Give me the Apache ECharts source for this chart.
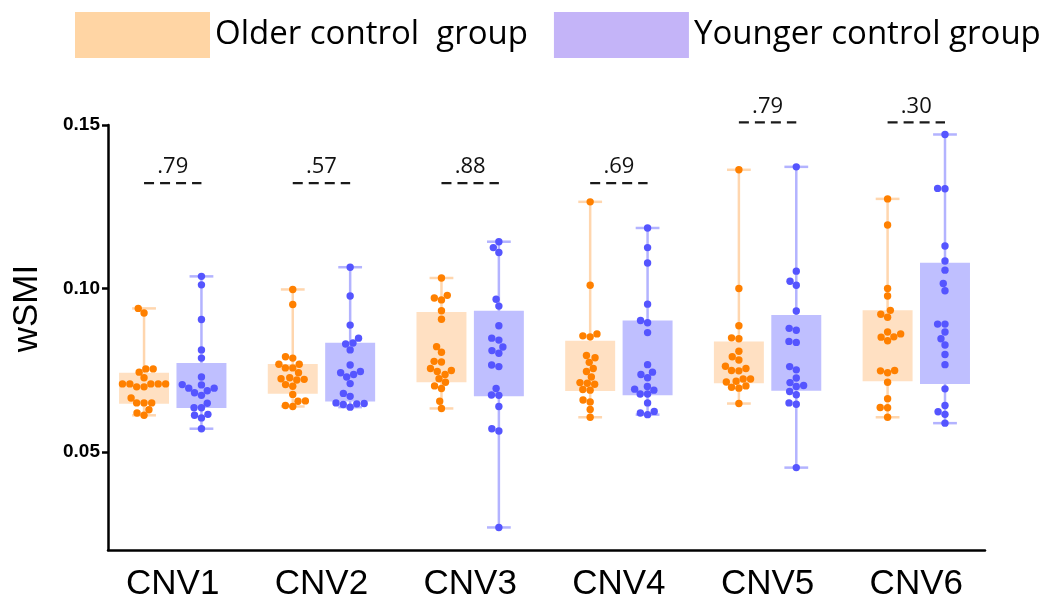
<!DOCTYPE html>
<html><head><meta charset="utf-8">
<script src="https://cdn.jsdelivr.net/npm/echarts@6/dist/echarts.min.js"></script>
<style>html,body{margin:0;padding:0;background:#fff}#c{width:1054px;height:602px}</style>
</head><body><div id="c"></div>
<script>
const categories = ['CNV1','CNV2','CNV3','CNV4','CNV5','CNV6'];
const seriesNames = ['Older control  group','Younger control group'];

const olderCNV1 = [0.0939,0.0925,0.0754,0.0744,0.0754,0.0727,0.0708,0.0708,0.0708,0.0699,0.0699,0.0708,0.0708,0.0665,0.0650,0.0650,0.0650,0.0629,0.0612,0.0619];
const youngerCNV1 = [0.1037,0.1011,0.0905,0.0812,0.0787,0.0729,0.0695,0.0681,0.0705,0.0673,0.0687,0.0706,0.0695,0.0649,0.0635,0.0635,0.0612,0.0604,0.0615,0.0571];
const olderCNV2 = [0.0997,0.0951,0.0791,0.0787,0.0768,0.0757,0.0757,0.0768,0.0742,0.0720,0.0727,0.0724,0.0722,0.0701,0.0706,0.0676,0.0655,0.0656,0.0639,0.0642];
const youngerCNV2 = [0.1065,0.0977,0.0888,0.0848,0.0830,0.0833,0.0812,0.0766,0.0742,0.0737,0.0746,0.0729,0.0709,0.0679,0.0670,0.0650,0.0647,0.0637,0.0645,0.0648];
const olderCNV3 = [0.1032,0.0979,0.0965,0.0971,0.0932,0.0906,0.0822,0.0805,0.0775,0.0777,0.0755,0.0746,0.0749,0.0737,0.0724,0.0713,0.0702,0.0694,0.0655,0.0633];
const youngerCNV3 = [0.1143,0.1125,0.1110,0.0967,0.0946,0.0886,0.0842,0.0848,0.0810,0.0802,0.0821,0.0761,0.0766,0.0694,0.0674,0.0673,0.0639,0.0571,0.0564,0.0269];
const olderCNV4 = [0.1265,0.1010,0.0855,0.0852,0.0861,0.0788,0.0795,0.0774,0.0755,0.0746,0.0729,0.0710,0.0707,0.0712,0.0691,0.0689,0.0659,0.0653,0.0630,0.0606];
const youngerCNV4 = [0.1185,0.1125,0.1078,0.0952,0.0895,0.0902,0.0865,0.0767,0.0737,0.0744,0.0727,0.0700,0.0689,0.0692,0.0677,0.0677,0.0650,0.0624,0.0614,0.0619];
const olderCNV5 = [0.1363,0.1000,0.0886,0.0846,0.0849,0.0808,0.0781,0.0791,0.0762,0.0749,0.0748,0.0755,0.0714,0.0723,0.0723,0.0716,0.0698,0.0695,0.0702,0.0648];
const youngerCNV5 = [0.1372,0.1053,0.1022,0.1010,0.0931,0.0878,0.0872,0.0835,0.0838,0.0761,0.0751,0.0726,0.0712,0.0703,0.0700,0.0685,0.0675,0.0650,0.0646,0.0452];
const olderCNV6 = [0.1274,0.1194,0.1000,0.0977,0.0921,0.0912,0.0933,0.0861,0.0867,0.0851,0.0840,0.0852,0.0749,0.0742,0.0748,0.0713,0.0663,0.0636,0.0635,0.0606];
const youngerCNV6 = [0.1471,0.1306,0.1305,0.1130,0.1084,0.1056,0.1015,0.0993,0.0891,0.0891,0.0867,0.0846,0.0827,0.0798,0.0767,0.0693,0.0642,0.0623,0.0615,0.0588];

const olderQ1 = [0.0647,0.0678,0.0713,0.0686,0.0710,0.0716];
const olderQ3 = [0.0742,0.0769,0.0928,0.0840,0.0838,0.0933];
const youngerQ1 = [0.0634,0.0654,0.0670,0.0673,0.0687,0.0708];
const youngerQ3 = [0.0772,0.0834,0.0932,0.0902,0.0919,0.1079];

const pLabels = ['.79','.57','.88','.69','.79','.30'];
const pLevels = [0.1322,0.1322,0.1322,0.1322,0.1508,0.1508];

const yTicks = [0.05,0.10,0.15];

const olderGroups = [olderCNV1,olderCNV2,olderCNV3,olderCNV4,olderCNV5,olderCNV6];
const youngerGroups = [youngerCNV1,youngerCNV2,youngerCNV3,youngerCNV4,youngerCNV5,youngerCNV6];

const OFF = 0.193, BOX_W = 0.336, CAP_W = 0.16;

function boxData(groups, q1, q3) {
  return groups.map((g, i) => [i + 1, Math.min(...g), q1[i], q3[i], Math.max(...g)]);
}
function pointData(groups) {
  return groups.map((g, i) => [i + 1].concat(g));
}

function boxRenderer(offset, fill, whisk) {
  return function (params, api) {
    const c = api.value(0) + offset;
    const pLo = api.coord([c, api.value(1)]);
    const pQ1 = api.coord([c, api.value(2)]);
    const pQ3 = api.coord([c, api.value(3)]);
    const pHi = api.coord([c, api.value(4)]);
    const hb = api.size([BOX_W, 0])[0] / 2;
    const hc = api.size([CAP_W, 0])[0] / 2;
    const ls = { stroke: whisk, lineWidth: 2.5 };
    return { type: 'group', children: [
      { type: 'line', shape: { x1: pLo[0], y1: pLo[1], x2: pHi[0], y2: pHi[1] }, style: ls },
      { type: 'line', shape: { x1: pLo[0] - hc, y1: pLo[1], x2: pLo[0] + hc, y2: pLo[1] }, style: ls },
      { type: 'line', shape: { x1: pHi[0] - hc, y1: pHi[1], x2: pHi[0] + hc, y2: pHi[1] }, style: ls },
      { type: 'rect', shape: { x: pQ3[0] - hb, y: pQ3[1], width: 2 * hb, height: pQ1[1] - pQ3[1] }, style: { fill: fill } }
    ]};
  };
}

function swarm(ys, d) {
  const order = ys.map((y, i) => i).sort((a, b) => ys[b] - ys[a]);
  const placed = [];
  const xs = new Array(ys.length).fill(0);
  for (const idx of order) {
    const y = ys[idx];
    const cands = [0];
    for (const p of placed) {
      const dy = Math.abs(p.y - y);
      if (dy < d) { const dx = Math.sqrt(d * d - dy * dy); cands.push(p.x + dx, p.x - dx); }
    }
    cands.sort((a, b) => Math.abs(a) - Math.abs(b) || a - b);
    let chosen = 0;
    for (const cx of cands) {
      let ok = true;
      for (const p of placed) {
        if ((p.x - cx) * (p.x - cx) + (p.y - y) * (p.y - y) < d * d - 1e-6) { ok = false; break; }
      }
      if (ok) { chosen = cx; break; }
    }
    xs[idx] = chosen;
    placed.push({ x: chosen, y: y });
  }
  return xs;
}

function pointRenderer(offset, color) {
  return function (params, api) {
    const c = api.value(0) + offset;
    const pts = [];
    for (let k = 1; k <= 40; k++) {
      const v = api.value(k);
      if (v === undefined || v === null || isNaN(v)) break;
      pts.push(api.coord([c, v]));
    }
    const xs = swarm(pts.map(p => p[1]), 7.4);
    return { type: 'group', children: pts.map((p, i) => ({
      type: 'circle', shape: { cx: p[0] + xs[i], cy: p[1], r: 3.7 }, style: { fill: color }
    }))};
  };
}

function annotRenderer(params, api) {
  const c = api.value(0);
  const a = api.coord([c - OFF, api.value(1)]);
  const b = api.coord([c + OFF, api.value(1)]);
  return { type: 'group', children: [
    { type: 'line', shape: { x1: a[0], y1: a[1], x2: b[0], y2: b[1] }, style: { stroke: '#1a1a1a', lineWidth: 2.2, lineDash: [10, 6] } },
    { type: 'text', style: { x: (a[0] + b[0]) / 2, y: a[1] - 16, text: pLabels[params.dataIndex], fill: '#111', fontSize: 22, fontFamily: 'Open Sans', align: 'center', verticalAlign: 'middle' } }
  ]};
}

const dims21 = Array.from({ length: 21 }, (_, i) => 'd' + i);

const chart = echarts.init(document.getElementById('c'));
chart.setOption({
  animation: false,
  legend: {
    left: 75, top: 12, padding: 0, itemWidth: 135, itemHeight: 46, itemGap: 26, icon: 'rect',
    textStyle: { fontSize: 33, fontFamily: 'Open Sans', color: '#000' },
    data: [
      { name: seriesNames[0], itemStyle: { color: '#FFD5A4' } },
      { name: seriesNames[1], itemStyle: { color: '#C4B4F8' } }
    ]
  },
  grid: { left: 108, right: 69, top: 125, bottom: 50 },
  xAxis: {
    type: 'value', min: 0.5646, max: 6.462,
    axisLine: { show: true, onZero: false, lineStyle: { color: '#000', width: 2.5 } },
    axisTick: { show: false }, splitLine: { show: false },
    axisLabel: { customValues: [1, 2, 3, 4, 5, 6], formatter: v => categories[Math.round(v) - 1], fontSize: 35, color: '#000', fontFamily: 'Liberation Sans', margin: 17 }
  },
  yAxis: {
    type: 'value', min: 0.02, max: 0.15,
    name: 'wSMI', nameLocation: 'middle', nameGap: 63,
    nameTextStyle: { fontSize: 35, color: '#000', fontFamily: 'Liberation Sans', padding: [0, 0, 0, 58] },
    axisLine: { show: true, onZero: false, lineStyle: { color: '#000', width: 2.5 } },
    axisTick: { show: true, customValues: yTicks, length: 6, lineStyle: { color: '#000', width: 2.5 } },
    axisLabel: { customValues: yTicks, formatter: v => v.toFixed(2), fontSize: 19, fontWeight: 'bold', color: '#000', fontFamily: 'Liberation Sans', margin: 8 },
    splitLine: { show: false }
  },
  series: [
    { name: seriesNames[0], type: 'custom', renderItem: boxRenderer(-OFF, '#FFE0C2', '#FFD6AE'), dimensions: ['c','lo','q1','q3','hi'], encode: { x: 0, y: [1,2,3,4] }, data: boxData(olderGroups, olderQ1, olderQ3), silent: true },
    { name: seriesNames[1], type: 'custom', renderItem: boxRenderer(OFF, '#BFBFFF', '#B3B3FF'), dimensions: ['c','lo','q1','q3','hi'], encode: { x: 0, y: [1,2,3,4] }, data: boxData(youngerGroups, youngerQ1, youngerQ3), silent: true },
    { name: seriesNames[0], type: 'custom', renderItem: pointRenderer(-OFF, '#FF8000'), dimensions: dims21, encode: { x: 0, y: 1 }, data: pointData(olderGroups), silent: true },
    { name: seriesNames[1], type: 'custom', renderItem: pointRenderer(OFF, '#5555FF'), dimensions: dims21, encode: { x: 0, y: 1 }, data: pointData(youngerGroups), silent: true },
    { name: 'p', type: 'custom', renderItem: annotRenderer, encode: { x: 0, y: 1 }, data: categories.map((c, i) => [i + 1, pLevels[i]]), silent: true, clip: false }
  ]
});
</script></body></html>
